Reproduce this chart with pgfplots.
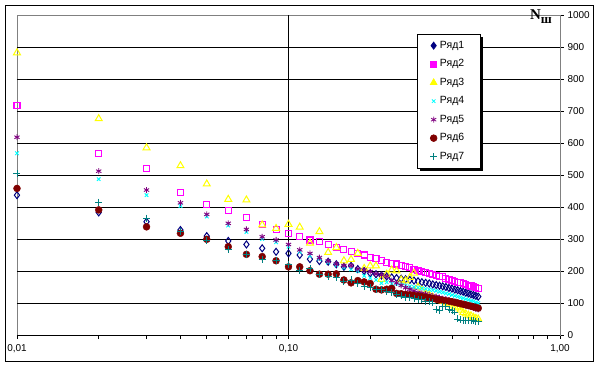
\documentclass[border=0pt]{standalone}
\usepackage{pgfplots}
\pgfplotsset{compat=1.18}
\usepackage{pgfplotstable}
\usepackage{fontspec}
\setmainfont{Liberation Sans}
\newfontfamily\serifb{Liberation Serif}
\usetikzlibrary{shadows}
\definecolor{c1}{RGB}{0,0,128}
\definecolor{c2}{RGB}{255,0,255}
\definecolor{c3}{RGB}{255,255,0}
\definecolor{c4}{RGB}{0,255,255}
\definecolor{c5}{RGB}{128,0,128}
\definecolor{c6}{RGB}{128,0,0}
\definecolor{c7}{RGB}{0,128,128}
\definecolor{axgray}{RGB}{128,128,128}
\pgfplotstableread{
x    r1  r2  r3  r4  r5  r6  r7
0.01 437 716 882 568 618 458 505
0.02 383 567 676 487 512 391 415
0.03 354 520 585 437 453 338 365
0.04 328 445 529 403 413 318 323
0.05 309 408 472 370 377 299 295
0.06 294 388 424 342 349 276 268
0.07 283 366 422 322 330 252 252
0.08 271 344 344 300 307 245 237
0.09 260 330 333 290 297 232 232
0.10 255 318 346 276 283 213 219
0.11 250 307 337 260 266 213 203
0.12 237 297 287 248 255 201 208
0.13 231 292 323 238 242 190 188
0.14 229 283 258 226 231 190 182
0.15 221 273 273 218 222 191 180
0.16 213 266 232 210 217 172 167
0.17 216 262 236 205 217 163 172
0.18 206 255 255 200 206 170 161
0.19 200 250 208 185 203 166 151
0.20 193 243 216 178 198 161 149
0.21 190 238 216 172 191 143 141
0.22 186 234 174 162 188 141 141
0.23 183 227 190 165 183 143 135
0.24 180 224 203 160 170 146 132
0.25 178 222 200 160 163 130 127
0.26 176 218 172 157 155 129 122
0.27 174 214 169 155 148 127 118
0.28 172 210 180 152 143 126 117
0.29 170 205 193 150 138 124 115
0.30 168 202 150 148 133 122 112
0.31 165 198 140 146 130 120 110
0.32 163 196 130 144 128 118 106
0.33 161 193 125 142 125 116 104
0.34 158 190 118 140 122 114 100
0.35 156 187 112 138 120 112 80
0.36 154 184 108 135 117 110 78
0.37 152 182 105 133 114 109 90
0.38 150 177 100 130 112 107 88
0.39 147 174 97  128 109 106 80
0.40 145 170 93  125 106 104 78
0.41 142 168 88  122 104 102 72
0.42 140 165 85  120 101 100 50
0.43 137 163 78  117 98  98  47
0.44 135 161 70  115 96  96  45
0.45 132 158 66  112 93  94  45
0.46 130 156 62  110 90  92  45
0.47 127 153 60  107 88  90  45
0.48 125 151 55  105 85  88  44
0.49 122 148 52  102 82  86  43
0.50 120 146 50  100 80  84  42
}\data
\begin{document}
\begin{tikzpicture}
\path (-17bp,-33bp) rectangle (583bp,335bp);
\begin{axis}[
  at={(0,0)}, anchor=south west,
  scale only axis, width=543bp, height=320bp,
  xmode=log, xmin=0.01, xmax=1, ymin=0, ymax=1000,
  xtick={0.01,0.1,1}, xticklabels={{0,01},{0,10},{1,00}},
  minor xtick={0.02,0.03,0.04,0.05,0.06,0.07,0.08,0.09,0.2,0.3,0.4,0.5,0.6,0.7,0.8,0.9},
  ytick={0,100,...,1000},
  extra y ticks={100,200,...,900}, extra y tick labels={},
  extra y tick style={grid=major, major tick length=0pt},
  extra x ticks={0.1}, extra x tick labels={},
  extra x tick style={grid=major, major tick length=0pt},
  major grid style={black, line width=0.8bp},
  xtick pos=bottom, ytick pos=right, yticklabel pos=right,
  tick align=outside, major tick length=4bp, minor tick length=4bp,
  tick style={black, line width=0.6bp},
  axis line style={draw=axgray, line width=0.8bp},
  /pgf/number format/assume math mode=true,
  /pgf/number format/1000 sep={},
  ticklabel style={font=\fontsize{10}{12}\selectfont},
  xticklabel style={yshift=-2bp},
  clip=false,
  legend style={at={(0.7366,0.9406)}, anchor=north west, draw=black, fill=white,
    line width=0.8bp, font=\fontsize{10.5}{12}\selectfont,
    drop shadow={shadow xshift=3bp, shadow yshift=-3bp, fill=black, opacity=1},
    inner xsep=13bp, inner ysep=2bp,
    nodes={inner xsep=3bp, inner ysep=4.5bp, text height=7.5bp, text depth=2bp},
    cells={anchor=west}},
  legend image code/.code={\draw[#1] plot coordinates {(0bp,0bp)};},
  legend entries={Ряд1,Ряд2,Ряд3,Ряд4,Ряд5,Ряд6,Ряд7},
]
\addlegendimage{only marks, mark=diamond*, c1, mark size=3.5bp}
\addlegendimage{only marks, mark=square*, c2, mark size=3bp}
\addlegendimage{only marks, mark=triangle*, c3, mark size=3.8bp}
\addlegendimage{only marks, mark=x, c4, mark size=2.5bp}
\addlegendimage{only marks, mark=asterisk, c5, mark size=3bp}
\addlegendimage{only marks, mark=*, c6, mark size=3.3bp}
\addlegendimage{only marks, mark=+, c7, mark size=3.3bp}
\addplot[forget plot, only marks, mark=diamond, draw=c1, mark size=3.5bp, mark options={draw=c1, fill=none, line width=1bp}] table[x=x,y=r1]{\data};
\addplot[forget plot, only marks, mark=square, draw=c2, mark size=3bp, mark options={draw=c2, fill=none, line width=1.1bp}] table[x=x,y=r2]{\data};
\addplot[forget plot, only marks, mark=triangle, draw=c3, mark size=4bp, mark options={draw=c3, fill=none, line width=1bp}] table[x=x,y=r3]{\data};
\addplot[forget plot, only marks, mark=x, draw=c4, mark size=2.5bp, mark options={draw=c4, line width=0.9bp}] table[x=x,y=r4]{\data};
\addplot[forget plot, only marks, mark=asterisk, draw=c5, mark size=3bp, mark options={draw=c5, line width=0.9bp}] table[x=x,y=r5]{\data};
\addplot[forget plot, only marks, mark=*, c6, mark size=3.5bp, mark options={draw=c6, fill=c6}] table[x=x,y=r6]{\data};
\addplot[forget plot, only marks, mark=+, draw=c7, mark size=3.5bp, mark options={draw=c7, line width=0.9bp}] table[x=x,y=r7]{\data};
\draw[black, line width=0.8bp] (axis cs:0.01,0) -- (axis cs:1,0);
\end{axis}
\node[anchor=base west, inner sep=0pt, font=\serifb\bfseries\fontsize{15}{15}\selectfont] at (513bp,315.5bp) {N\raisebox{-4bp}{\fontsize{13}{13}\selectfont ш}};
\draw[black, line width=0.8bp] (-12bp,-26bp) rectangle (576bp,330bp);
\end{tikzpicture}
\end{document}
